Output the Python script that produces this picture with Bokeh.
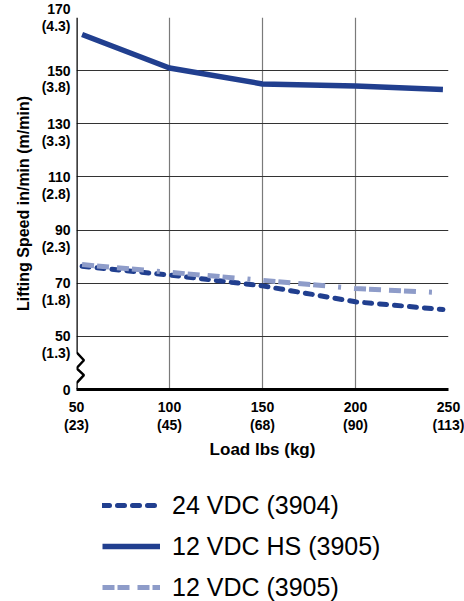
from bokeh.plotting import figure
from bokeh.layouts import column
from bokeh.models import Range1d, FixedTicker, Legend, LegendItem
from bokeh.embed import file_html
from bokeh.resources import INLINE

# ---- data ----
load_lbs = [53, 100, 150, 200, 247]
speed_24vdc_3904 = [76.4, 73.1, 69.0, 63.0, 60.1]
speed_12vdc_hs_3905 = [163.6, 151.0, 145.0, 144.2, 142.9]
speed_12vdc_3905 = [77.0, 74.1, 71.1, 68.0, 66.4]

x_ticks = [50, 100, 150, 200, 250]
x_tick_labels = ["50\n(23)", "100\n(45)", "150\n(68)", "200\n(90)", "250\n(113)"]
# the y axis is broken: "0" sits where 30 would be
y_ticks = [30, 50, 70, 90, 110, 130, 150, 170]
y_tick_labels = ["0", "50\n(1.3)", "70\n(1.8)", "90\n(2.3)", "110\n(2.8)",
                 "130\n(3.3)", "150\n(3.8)", "170\n(4.3)"]
series_names = ["24 VDC (3904)", "12 VDC HS (3905)", "12 VDC (3905)"]

# axis-break zigzag (in axis units)
break_x = [50, 50, 54, 50, 54, 50, 50]
break_y = [170, 44, 41, 38, 35.4, 32.4, 30]

DARK = "#213f8f"
LIGHT = "#8e9cc9"
FONT = "Liberation Sans"
STYLE_24 = dict(line_color=DARK, line_width=5, line_dash="7 8", line_cap="round")
STYLE_HS = dict(line_color=DARK, line_width=5.5)
STYLE_12 = dict(line_color=LIGHT, line_width=5, line_dash="12 3 12 8 12 3 12 13 3 13")

p = figure(width=464, height=465, x_range=Range1d(50, 250), y_range=Range1d(30, 170),
           output_backend="svg", toolbar_location=None,
           min_border_left=76, min_border_right=16, min_border_top=17, min_border_bottom=76)
p.outline_line_color = None

p.xaxis.ticker = FixedTicker(ticks=x_ticks)
p.yaxis.ticker = FixedTicker(ticks=y_ticks)
p.xaxis.major_label_overrides = {t: l for t, l in zip(x_ticks, x_tick_labels)}
p.yaxis.major_label_overrides = {
    t: (" \n" + l if ("\n" in l and t != y_ticks[-1]) else l)
    for t, l in zip(y_ticks, y_tick_labels)}

for ax in (p.xaxis, p.yaxis):
    ax.major_tick_in = 0
    ax.major_tick_out = 0
    ax.minor_tick_in = 0
    ax.minor_tick_out = 0
    ax.major_label_text_font = FONT
    ax.major_label_text_font_style = "bold"
    ax.major_label_text_font_size = "14px"
    ax.major_label_text_color = "black"
    ax.axis_label_text_font = FONT
    ax.axis_label_text_font_style = "bold"
    ax.axis_label_text_color = "black"
p.xaxis.major_label_text_line_height = 1.15
p.yaxis.major_label_text_line_height = 1.05

p.xaxis.axis_label = "Load lbs (kg)"
p.yaxis.axis_label = "Lifting Speed in/min (m/min)"
p.xaxis.axis_label_text_font_size = "17px"
p.yaxis.axis_label_text_font_size = "16px"
p.xaxis.axis_line_width = 3
p.xaxis.axis_line_color = "black"
p.xaxis.major_label_standoff = 9
p.xaxis.axis_label_standoff = 4
p.yaxis.axis_line_color = None
p.yaxis.major_label_standoff = 6
p.yaxis.axis_label_standoff = 7

p.xgrid.ticker = FixedTicker(ticks=x_ticks[1:])
p.ygrid.ticker = FixedTicker(ticks=y_ticks[1:])
p.xgrid.grid_line_color = "#7a7a7a"
p.ygrid.grid_line_color = "#333333"
p.xgrid.grid_line_width = 1.2
p.ygrid.grid_line_width = 1.2

# broken y axis line
p.line(break_x, break_y, line_color="black", line_width=2.5)

p.line(load_lbs, speed_24vdc_3904, **STYLE_24)
p.line(load_lbs, speed_12vdc_hs_3905, **STYLE_HS)
p.line(load_lbs, speed_12vdc_3905, **STYLE_12)

# legend panel below the chart: same series, drawn outside its (empty) view so only
# the legend shows
lg = figure(width=464, height=136, x_range=Range1d(0, 1), y_range=Range1d(0, 1),
            output_backend="svg", toolbar_location=None,
            x_axis_location=None, y_axis_location=None,
            min_border_left=0, min_border_right=0, min_border_top=0, min_border_bottom=0)
lg.outline_line_color = None
lg.xgrid.visible = False
lg.ygrid.visible = False
l24 = lg.line(load_lbs, speed_24vdc_3904, **STYLE_24)
lhs = lg.line(load_lbs, speed_12vdc_hs_3905, **STYLE_HS)
l12 = lg.line(load_lbs, speed_12vdc_3905, **STYLE_12)

legend = Legend(items=[LegendItem(label=series_names[0], renderers=[l24]),
                       LegendItem(label=series_names[1], renderers=[lhs]),
                       LegendItem(label=series_names[2], renderers=[l12])],
                location=(26, -1), orientation="vertical",
                label_text_font=FONT, label_text_font_size="25px", label_text_color="black",
                glyph_width=58, glyph_height=30, label_height=30, spacing=11,
                label_standoff=12, padding=0, margin=0,
                border_line_color=None, background_fill_alpha=0)
lg.add_layout(legend, "center")

layout = column(p, lg, spacing=0)
open("out.html", "w").write(file_html(layout, INLINE))
